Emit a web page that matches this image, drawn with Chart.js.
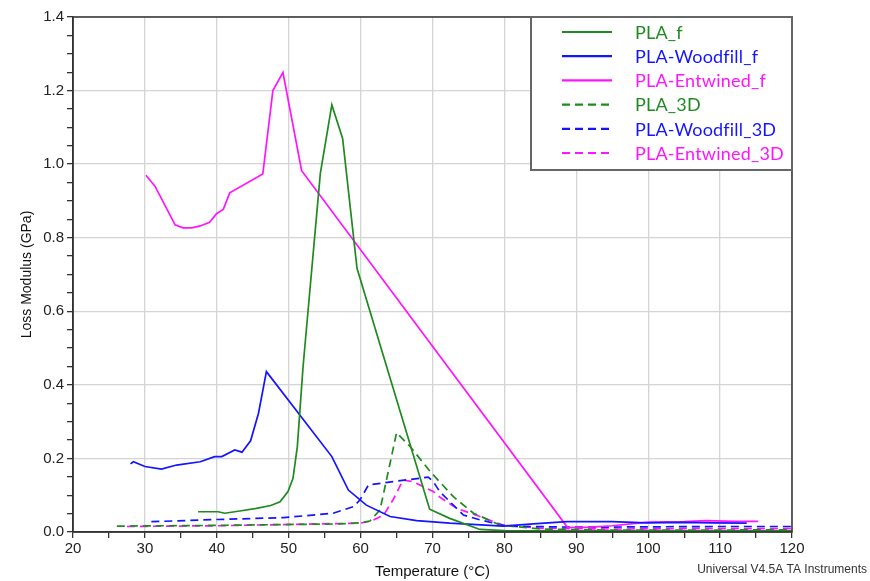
<!DOCTYPE html>
<html>
<head>
<meta charset="utf-8">
<script src="https://cdn.jsdelivr.net/npm/chart.js@4"></script>
<style>
html,body{margin:0;padding:0;background:#fff;}
#wrap{width:870px;height:581px;position:relative;}
</style>
</head>
<body>
<div id="wrap"><canvas id="c" width="870" height="581"></canvas></div>
<script>
// ---- data (temperature °C / loss modulus GPa) ----
const plaF_T = [37.4, 40.2, 41.1, 43.2, 45.5, 47.5, 48.8, 49.9, 50.6, 51.2, 52.0, 54.4, 56.0, 57.5, 59.5, 69.6, 72.4, 76.6, 80, 90, 100, 110, 120];
const plaF_G = [0.055, 0.055, 0.051, 0.057, 0.064, 0.072, 0.082, 0.110, 0.146, 0.232, 0.45, 0.975, 1.161, 1.070, 0.717, 0.062, 0.037, 0.007, 0.004, 0.003, 0.003, 0.003, 0.003];

const woodF_T = [28.0, 28.4, 30.0, 32.3, 34.4, 37.7, 39.7, 40.7, 42.5, 43.5, 44.7, 45.8, 46.9, 56.0, 58.3, 60.8, 64.1, 67.8, 72.4, 79.8, 84, 88.7, 95, 99.8, 105, 109, 113.7];
const woodF_G = [0.185, 0.191, 0.178, 0.171, 0.182, 0.191, 0.205, 0.205, 0.223, 0.217, 0.248, 0.323, 0.436, 0.205, 0.114, 0.073, 0.042, 0.031, 0.024, 0.016, 0.022, 0.028, 0.028, 0.025, 0.026, 0.025, 0.024];

const entF_T = [30.15, 31.4, 34.2, 35.3, 36.5, 37.7, 39.0, 40.0, 40.9, 41.8, 46.4, 47.8, 49.2, 51.8, 88.8, 92, 95, 100, 105, 108, 112, 115.3];
const entF_G = [0.970, 0.94, 0.835, 0.827, 0.827, 0.832, 0.842, 0.866, 0.877, 0.922, 0.973, 1.20, 1.249, 0.982, 0.012, 0.013, 0.017, 0.027, 0.028, 0.031, 0.029, 0.029];

const pla3D_T = [26.1, 40, 57.1, 60, 61.3, 62.7, 64, 65.0, 66.9, 69.7, 72.9, 75.7, 79.4, 85, 95, 105, 120];
const pla3D_G = [0.016, 0.018, 0.022, 0.025, 0.030, 0.060, 0.178, 0.27, 0.232, 0.164, 0.096, 0.051, 0.019, 0.008, 0.005, 0.005, 0.006];

const wood3D_T = [30.9, 40, 49.3, 56.2, 59, 59.9, 61.1, 64.5, 69.4, 70.1, 71.0, 74.3, 76.6, 80.3, 90, 100, 110, 120];
const wood3D_G = [0.028, 0.034, 0.039, 0.051, 0.069, 0.087, 0.128, 0.137, 0.149, 0.137, 0.110, 0.046, 0.033, 0.016, 0.013, 0.014, 0.015, 0.015];

const ent3D_T = [27.5, 40, 59.9, 61.5, 63.2, 64.5, 65.9, 67.3, 70.1, 71.0, 73.4, 76.6, 79.8, 85, 95, 105, 115, 120];
const ent3D_G = [0.015, 0.017, 0.024, 0.030, 0.046, 0.087, 0.141, 0.137, 0.11, 0.095, 0.064, 0.042, 0.019, 0.010, 0.008, 0.009, 0.009, 0.009];

const seriesNames = ["PLA_f", "PLA-Woodfill_f", "PLA-Entwined_f", "PLA_3D", "PLA-Woodfill_3D", "PLA-Entwined_3D"];
const xTickLabels = [20, 30, 40, 50, 60, 70, 80, 90, 100, 110, 120];
const yTickLabels = ["0.0", "0.2", "0.4", "0.6", "0.8", "1.0", "1.2", "1.4"];

// ---- styling ----
const GREEN = "#1f8a1f", BLUE = "#1414ff", MAGENTA = "#ff14ff";
const DASH = [8, 5];

function pts(T, G) { return T.map((t, i) => ({ x: t, y: G[i] })); }

const sets = [
  [plaF_T, plaF_G, GREEN, []],
  [woodF_T, woodF_G, BLUE, []],
  [entF_T, entF_G, MAGENTA, []],
  [pla3D_T, pla3D_G, GREEN, DASH],
  [wood3D_T, wood3D_G, BLUE, DASH],
  [ent3D_T, ent3D_G, MAGENTA, DASH]
];

const datasets = sets.map((s, i) => ({
  label: seriesNames[i],
  data: pts(s[0], s[1]),
  borderColor: s[2],
  backgroundColor: s[2],
  borderDash: s[3],
  borderWidth: 1.7,
  pointRadius: 0,
  tension: 0,
  fill: false
}));

const isMultiple = (v, step) => Math.abs(v / step - Math.round(v / step)) < 1e-6;

const framePlugin = {
  id: "frame",
  afterDraw(chart) {
    const { ctx, chartArea: a } = chart;
    ctx.save();
    // frame
    ctx.strokeStyle = "#333";
    ctx.lineWidth = 1.5;
    ctx.strokeRect(a.left, a.top, a.right - a.left, a.bottom - a.top);

    // legend box
    const lx = 531, ly = 17, lw = a.right - 531, lh = 153;
    ctx.fillStyle = "#fff";
    ctx.fillRect(lx, ly, lw, lh);
    ctx.strokeStyle = "#666";
    ctx.lineWidth = 2;
    ctx.strokeRect(lx, ly, lw, lh);
    ctx.font = "18px Lato, 'Open Sans', sans-serif";
    try { ctx.letterSpacing = "0.2px"; } catch (e) {}
    ctx.textBaseline = "middle";
    ctx.textAlign = "left";
    chart.data.datasets.forEach((d, i) => {
      const y = 32 + i * 24.2;
      ctx.beginPath();
      ctx.strokeStyle = d.borderColor;
      ctx.lineWidth = 2.2;
      ctx.setLineDash(d.borderDash || []);
      ctx.moveTo(562, y);
      ctx.lineTo(612, y);
      ctx.stroke();
      ctx.setLineDash([]);
      ctx.fillStyle = d.borderColor;
      ctx.fillText(d.label, 635, y + 1);
    });
    try { ctx.letterSpacing = "0px"; } catch (e) {}

    // footnote
    ctx.font = "12px 'Liberation Sans', Arial, sans-serif";
    ctx.fillStyle = "#333";
    ctx.textAlign = "right";
    ctx.textBaseline = "middle";
    ctx.fillText("Universal V4.5A TA Instruments", 867, 570);
    ctx.restore();
  }
};

new Chart(document.getElementById("c"), {
  type: "line",
  data: { datasets },
  options: {
    responsive: false,
    animation: false,
    parsing: false,
    layout: { padding: { left: 0, top: 17, right: 78, bottom: 0 } },
    plugins: { legend: { display: false }, tooltip: { enabled: false } },
    scales: {
      x: {
        type: "linear",
        min: 20, max: 120,
        ticks: {
          stepSize: 5,
          autoSkip: false,
          maxRotation: 0,
          padding: 2,
          color: "#222",
          font: { family: "'Liberation Sans', Arial, sans-serif", size: 15 },
          callback: (v) => (isMultiple(v, 10) && xTickLabels.includes(Math.round(v))) ? String(Math.round(v)) : ""
        },
        grid: {
          color: (c) => (c.tick && isMultiple(c.tick.value, 10)) ? "#d4d4d4" : "rgba(0,0,0,0)",
          lineWidth: 1.3,
          tickColor: "#333",
          tickLength: 6
        },
        border: { color: "#333", width: 1.5 },
        title: {
          display: true,
          text: "Temperature (°C)",
          color: "#111",
          font: { family: "'Liberation Sans', Arial, sans-serif", size: 15 },
          padding: { top: 0, bottom: 0 }
        },
        afterFit: (s) => { s.height = 49; }
      },
      y: {
        type: "linear",
        min: 0, max: 1.4,
        ticks: {
          stepSize: 0.05,
          autoSkip: false,
          padding: 3,
          color: "#222",
          font: { family: "'Liberation Sans', Arial, sans-serif", size: 15 },
          callback: (v) => {
            if (!isMultiple(v, 0.2)) return "";
            return yTickLabels[Math.round(v / 0.2)];
          }
        },
        grid: {
          color: (c) => (c.tick && isMultiple(c.tick.value, 0.2)) ? "#d4d4d4" : "rgba(0,0,0,0)",
          lineWidth: 1.3,
          tickColor: "#333",
          tickLength: 6
        },
        border: { color: "#333", width: 1.5 },
        title: {
          display: true,
          text: "Loss Modulus (GPa)",
          color: "#111",
          font: { family: "'Liberation Sans', Arial, sans-serif", size: 14 },
          padding: { top: 19, bottom: 0 }
        },
        afterFit: (s) => { s.width = 73; }
      }
    }
  },
  plugins: [framePlugin]
});
</script>
</body>
</html>
